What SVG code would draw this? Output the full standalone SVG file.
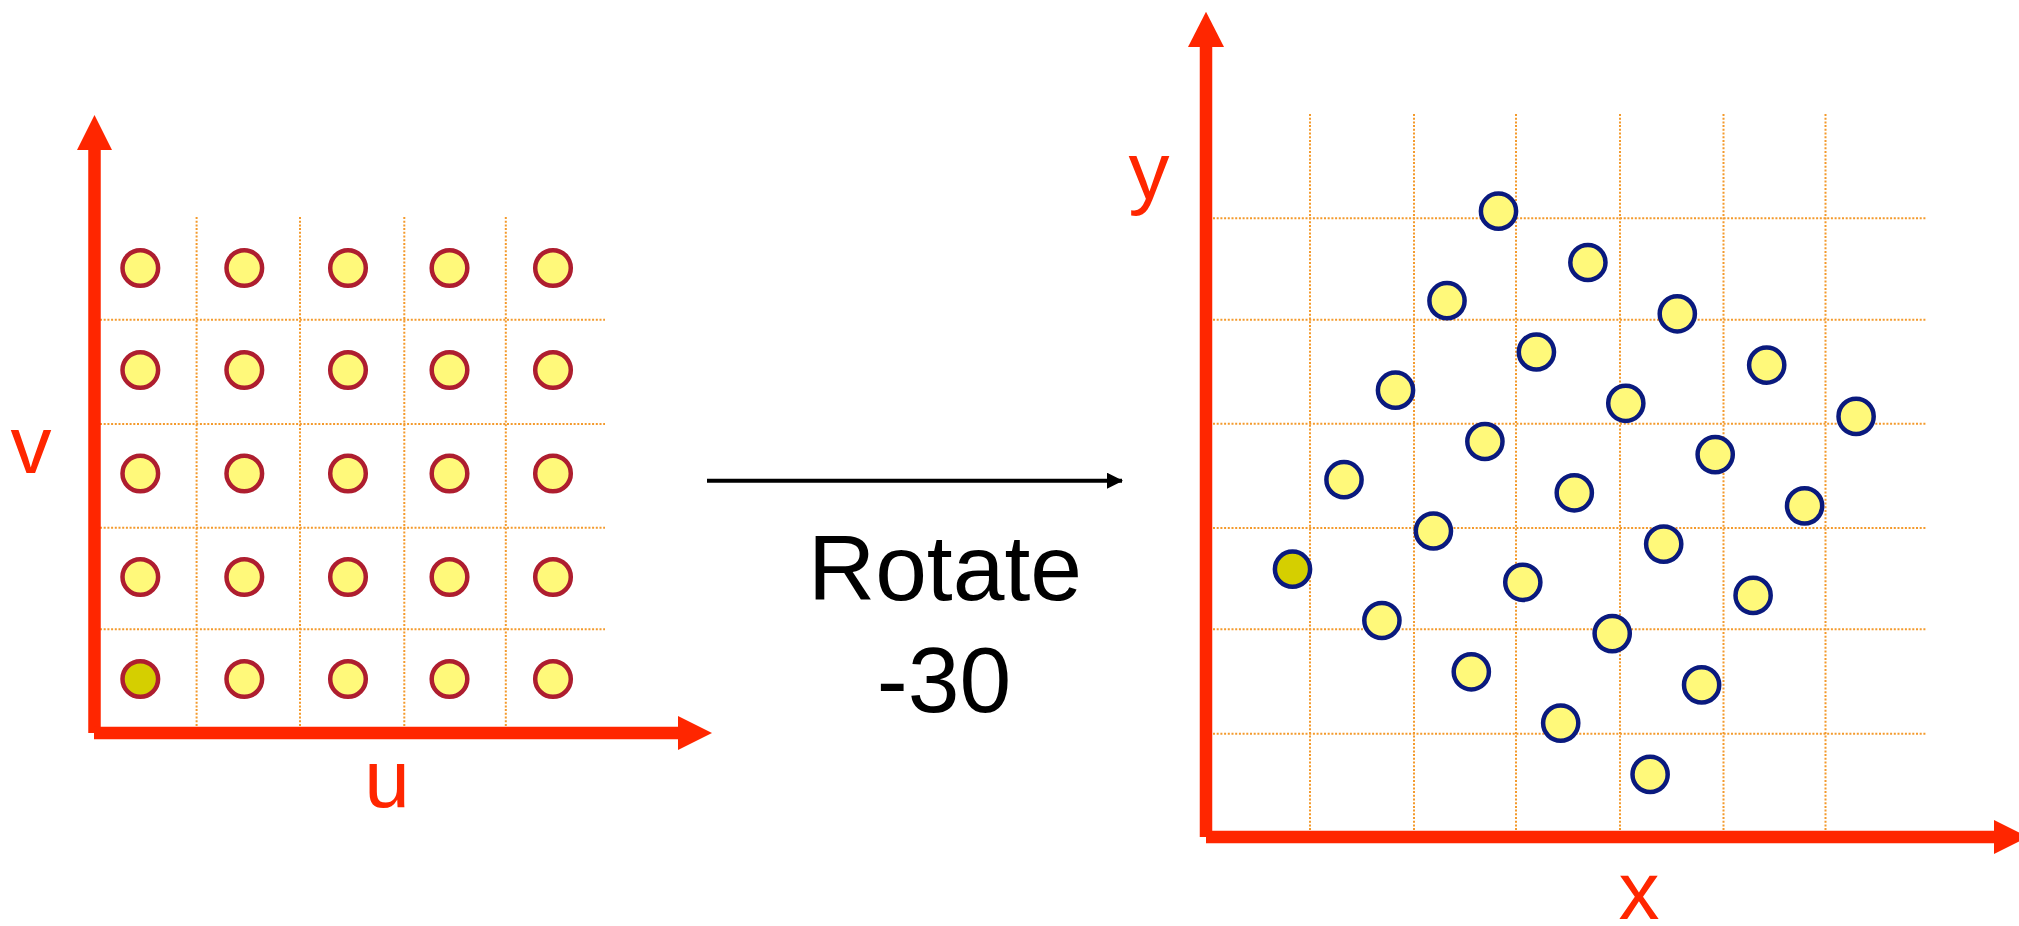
<svg xmlns="http://www.w3.org/2000/svg" width="2019" height="926" viewBox="0 0 2019 926">
<style>
.grid{stroke:#F49A2C;stroke-width:2;stroke-dasharray:2 1.7;fill:none}
.axis{stroke:#FF2600;stroke-width:12.5;fill:none}
.head{fill:#FF2600}
.lbl{font-family:"Liberation Sans",Arial,sans-serif;fill:#FF2600;font-size:82px;text-anchor:middle}
.txt{font-family:"Liberation Sans",Arial,sans-serif;fill:#000;font-size:93px;text-anchor:middle}
.cl{fill:#FFF97A;stroke:#AE1E2F;stroke-width:4.5}
.cr{fill:#FFF97A;stroke:#0A1A7E;stroke-width:4.5}
.dk{fill:#D5CF00}
</style>
<defs>
<marker id="ah" markerWidth="16" markerHeight="16" refX="15" refY="8" orient="auto" markerUnits="userSpaceOnUse" viewBox="0 0 16 16"><path d="M0,0 L16,8 L0,16 Z" fill="#000"/></marker>
</defs>
<rect width="2019" height="926" fill="#fff"/>
<g id="left-panel">
<g id="left-grid">
<line class="grid" x1="196.6" y1="217" x2="196.6" y2="727"/>
<line class="grid" x1="300" y1="217" x2="300" y2="727"/>
<line class="grid" x1="404.3" y1="217" x2="404.3" y2="727"/>
<line class="grid" x1="505.8" y1="217" x2="505.8" y2="727"/>
<line class="grid" x1="100" y1="319.7" x2="605" y2="319.7"/>
<line class="grid" x1="100" y1="424" x2="605" y2="424"/>
<line class="grid" x1="100" y1="527.7" x2="605" y2="527.7"/>
<line class="grid" x1="100" y1="629.3" x2="605" y2="629.3"/>
</g>
<g id="left-axes">
<line class="axis" x1="94.5" y1="733" x2="94.5" y2="149"/>
<polygon class="head" points="77,150 112,150 94.5,115"/>
<line class="axis" x1="94" y1="733" x2="679" y2="733"/>
<polygon class="head" points="678,716 678,750 712,733"/>
<text class="lbl" x="31" y="473">v</text>
<text class="lbl" x="387" y="807">u</text>
</g>
<g id="left-points">
<circle id="p00" class="cl dk" cx="140.3" cy="679" r="17.8"/>
<circle id="p10" class="cl" cx="244.3" cy="679" r="17.8"/>
<circle id="p20" class="cl" cx="348" cy="679" r="17.8"/>
<circle id="p30" class="cl" cx="449.5" cy="679" r="17.8"/>
<circle id="p40" class="cl" cx="553" cy="679" r="17.8"/>
<circle id="p01" class="cl" cx="140.3" cy="577" r="17.8"/>
<circle id="p11" class="cl" cx="244.3" cy="577" r="17.8"/>
<circle id="p21" class="cl" cx="348" cy="577" r="17.8"/>
<circle id="p31" class="cl" cx="449.5" cy="577" r="17.8"/>
<circle id="p41" class="cl" cx="553" cy="577" r="17.8"/>
<circle id="p02" class="cl" cx="140.3" cy="473.5" r="17.8"/>
<circle id="p12" class="cl" cx="244.3" cy="473.5" r="17.8"/>
<circle id="p22" class="cl" cx="348" cy="473.5" r="17.8"/>
<circle id="p32" class="cl" cx="449.5" cy="473.5" r="17.8"/>
<circle id="p42" class="cl" cx="553" cy="473.5" r="17.8"/>
<circle id="p03" class="cl" cx="140.3" cy="370" r="17.8"/>
<circle id="p13" class="cl" cx="244.3" cy="370" r="17.8"/>
<circle id="p23" class="cl" cx="348" cy="370" r="17.8"/>
<circle id="p33" class="cl" cx="449.5" cy="370" r="17.8"/>
<circle id="p43" class="cl" cx="553" cy="370" r="17.8"/>
<circle id="p04" class="cl" cx="140.3" cy="268" r="17.8"/>
<circle id="p14" class="cl" cx="244.3" cy="268" r="17.8"/>
<circle id="p24" class="cl" cx="348" cy="268" r="17.8"/>
<circle id="p34" class="cl" cx="449.5" cy="268" r="17.8"/>
<circle id="p44" class="cl" cx="553" cy="268" r="17.8"/>
</g>
</g>
<g id="connectors">
<line x1="707" y1="480.7" x2="1122" y2="480.7" stroke="#000" stroke-width="4" marker-end="url(#ah)"/>
</g>
<g id="rotate-label">
<text class="txt" x="945" y="600">Rotate</text>
<text class="txt" x="944" y="712">-30</text>
</g>
<g id="right-panel">
<g id="right-grid">
<line class="grid" x1="1310" y1="114" x2="1310" y2="831"/>
<line class="grid" x1="1414" y1="114" x2="1414" y2="831"/>
<line class="grid" x1="1516" y1="114" x2="1516" y2="831"/>
<line class="grid" x1="1620" y1="114" x2="1620" y2="831"/>
<line class="grid" x1="1723.5" y1="114" x2="1723.5" y2="831"/>
<line class="grid" x1="1825.5" y1="114" x2="1825.5" y2="831"/>
<line class="grid" x1="1213" y1="218.3" x2="1926" y2="218.3"/>
<line class="grid" x1="1213" y1="319.7" x2="1926" y2="319.7"/>
<line class="grid" x1="1213" y1="423.7" x2="1926" y2="423.7"/>
<line class="grid" x1="1213" y1="528" x2="1926" y2="528"/>
<line class="grid" x1="1213" y1="629.3" x2="1926" y2="629.3"/>
<line class="grid" x1="1213" y1="733.7" x2="1926" y2="733.7"/>
</g>
<g id="right-axes">
<line class="axis" x1="1206" y1="837" x2="1206" y2="46"/>
<polygon class="head" points="1188,47 1224,47 1206,11.7"/>
<line class="axis" x1="1206" y1="837" x2="1995" y2="837"/>
<polygon class="head" points="1994,820 1994,854 2028,837"/>
<text class="lbl" x="1149" y="199">y</text>
<text class="lbl" x="1639" y="919">x</text>
</g>
<g id="right-points">
<circle id="q00" class="cr dk" cx="1292.5" cy="569.2" r="17.6"/>
<circle id="q01" class="cr" cx="1344" cy="479.7" r="17.6"/>
<circle id="q02" class="cr" cx="1395.5" cy="390.2" r="17.6"/>
<circle id="q03" class="cr" cx="1447" cy="300.7" r="17.6"/>
<circle id="q04" class="cr" cx="1498.5" cy="211.2" r="17.6"/>
<circle id="q10" class="cr" cx="1381.9" cy="620.5" r="17.6"/>
<circle id="q11" class="cr" cx="1433.4" cy="531" r="17.6"/>
<circle id="q12" class="cr" cx="1484.9" cy="441.5" r="17.6"/>
<circle id="q13" class="cr" cx="1536.4" cy="352" r="17.6"/>
<circle id="q14" class="cr" cx="1587.9" cy="262.5" r="17.6"/>
<circle id="q20" class="cr" cx="1471.3" cy="671.8" r="17.6"/>
<circle id="q21" class="cr" cx="1522.8" cy="582.3" r="17.6"/>
<circle id="q22" class="cr" cx="1574.3" cy="492.8" r="17.6"/>
<circle id="q23" class="cr" cx="1625.8" cy="403.3" r="17.6"/>
<circle id="q24" class="cr" cx="1677.3" cy="313.8" r="17.6"/>
<circle id="q30" class="cr" cx="1560.7" cy="723.1" r="17.6"/>
<circle id="q31" class="cr" cx="1612.2" cy="633.6" r="17.6"/>
<circle id="q32" class="cr" cx="1663.7" cy="544.1" r="17.6"/>
<circle id="q33" class="cr" cx="1715.2" cy="454.6" r="17.6"/>
<circle id="q34" class="cr" cx="1766.7" cy="365.1" r="17.6"/>
<circle id="q40" class="cr" cx="1650.1" cy="774.4" r="17.6"/>
<circle id="q41" class="cr" cx="1701.6" cy="684.9" r="17.6"/>
<circle id="q42" class="cr" cx="1753.1" cy="595.4" r="17.6"/>
<circle id="q43" class="cr" cx="1804.6" cy="505.9" r="17.6"/>
<circle id="q44" class="cr" cx="1856.1" cy="416.4" r="17.6"/>
</g>
</g>
</svg>
